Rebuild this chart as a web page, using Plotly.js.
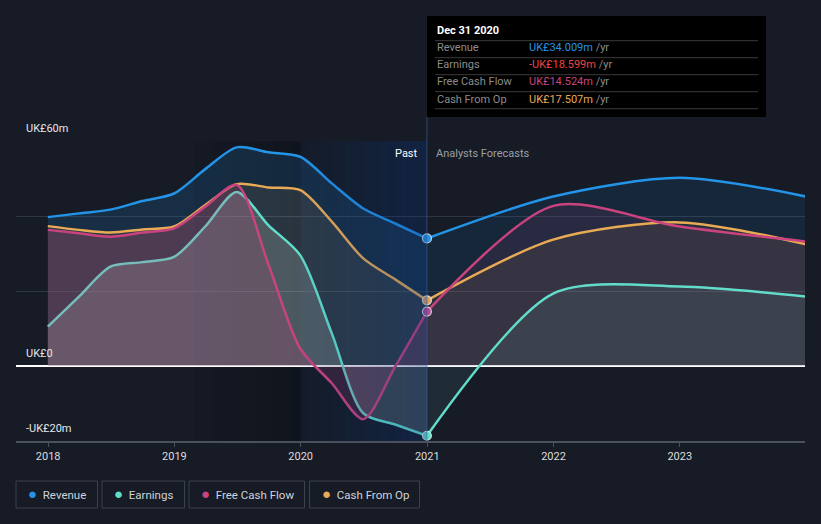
<!DOCTYPE html>
<html>
<head>
<meta charset="utf-8">
<script src="https://cdn.plot.ly/plotly-3.0.1.min.js"></script>
<style>
html,body{margin:0;padding:0;background:#161b26;}
#chart{width:821px;height:524px;}
</style>
</head>
<body>
<div id="chart"></div>
<script>
// ---- data (UK£ m) ----
const pastDates = ['2017-12-31','2018-03-31','2018-06-30','2018-09-30','2018-12-31','2019-03-31','2019-06-30','2019-09-30','2019-12-31','2020-03-31','2020-06-30','2020-09-30','2020-12-31'];
const foreDates = ['2020-12-31','2021-12-31','2022-12-31','2023-12-31'];

const revenuePast  = [39.7, 40.7, 41.7, 44.0, 46.0, 52.5, 58.3, 57.0, 55.8, 48.7, 42.0, 38.0, 34.009];
const revenueFore  = [34.009, 45.2, 50.2, 45.2];
const earningsPast = [10.5, 18.5, 26.5, 27.7, 29.1, 37.2, 46.4, 37.5, 29.5, 8.7, -12.6, -15.6, -18.599];
const earningsFore = [-18.599, 19.3, 21.2, 18.5];
const fcfPast      = [36.3, 35.4, 34.5, 35.6, 36.7, 42.5, 48.3, 27.0, 4.6, -4.6, -14.2, -0.2, 14.524];
const fcfFore      = [14.524, 42.7, 37.2, 33.2];
const cfoPast      = [37.3, 36.3, 35.6, 36.4, 37.2, 42.9, 48.5, 47.6, 46.9, 38.5, 28.7, 23.1, 17.507];
const cfoFore      = [17.507, 33.7, 38.3, 32.5];

const seriesNames = ['Revenue','Earnings','Free Cash Flow','Cash From Op'];
const tipValues   = ['UK£34.009m','-UK£18.599m','UK£14.524m','UK£17.507m'];
const yTickVals   = [-20, 0, 20, 40, 60];
const yLabels     = [[60,'UK£60m'],[0,'UK£0'],[-20,'-UK£20m']];
const xTickVals   = ['2018-01-01','2019-01-01','2020-01-01','2021-01-01','2022-01-01','2023-01-01'];
const xTickText   = ['2018','2019','2020','2021','2022','2023'];

// ---- styles ----
const C = {rev:'#2394e8', earn:'#62dccb', fcf:'#c9437e', cfo:'#e8aa55'};
const lineColors = [C.rev, C.earn, C.fcf, C.cfo];
const tipColors  = ['#2394e8','#ee4444','#c9437e','#e8aa55'];
const FONT = 'Roboto, "Open Sans", sans-serif';

function fillTrace(x, y, color) {
  return {x:x, y:y, type:'scatter', mode:'lines', line:{width:0, shape:'spline', smoothing:0.8},
          fill:'tozeroy', fillcolor:color, hoverinfo:'skip', showlegend:false};
}
function lineTrace(x, y, color, w) {
  return {x:x, y:y, type:'scatter', mode:'lines', line:{width:w||2.5, color:color, shape:'spline', smoothing:0.8},
          hoverinfo:'skip', showlegend:false};
}

const traces = [
  // fills past
  fillTrace(pastDates, revenuePast, 'rgba(35,148,232,0.16)'),
  fillTrace(pastDates, cfoPast, 'rgba(232,170,85,0.10)'),
  fillTrace(pastDates, earningsPast, 'rgba(200,220,210,0.22)'),
  lineTrace(pastDates, earningsPast, C.earn),
  fillTrace(pastDates, fcfPast, 'rgba(201,67,126,0.20)'),
  // fills forecast
  fillTrace(foreDates, revenueFore, 'rgba(35,148,232,0.10)'),
  fillTrace(foreDates, fcfFore, 'rgba(201,67,126,0.10)'),
  fillTrace(foreDates, cfoFore, 'rgba(232,170,85,0.08)'),
  fillTrace(foreDates, earningsFore, 'rgba(120,200,190,0.10)'),
  // lines
  lineTrace(foreDates, earningsFore, C.earn),
  lineTrace(pastDates, revenuePast, C.rev),
  lineTrace(foreDates, revenueFore, C.rev),
  lineTrace(pastDates, cfoPast, C.cfo),
  lineTrace(foreDates, cfoFore, C.cfo),
  lineTrace(pastDates, fcfPast, C.fcf),
  lineTrace(foreDates, fcfFore, C.fcf),
  // markers at last reported point
  {x:[pastDates[12],pastDates[12],pastDates[12],pastDates[12]],
   y:[revenuePast[12], earningsPast[12], fcfPast[12], cfoPast[12]],
   type:'scatter', mode:'markers', hoverinfo:'skip', showlegend:false,
   marker:{size:9, color:[C.rev, C.earn, '#b04a94', '#d9a263'], line:{color:'rgba(255,255,255,0.75)', width:1.2}}}
];

const shapes = [];
// dark fade before 2020
const fadeStart = new Date('2019-03-01').getTime(), fadeEnd = new Date('2020-01-01').getTime();
const N1 = 12;
for (let i = 0; i < N1; i++) {
  const a = fadeStart + (fadeEnd - fadeStart) * i / N1, b = fadeStart + (fadeEnd - fadeStart) * (i + 1) / N1;
  shapes.push({type:'rect', xref:'x', yref:'paper', x0:new Date(a).toISOString().slice(0,10), x1:new Date(b).toISOString().slice(0,10),
    y0:0, y1:1, fillcolor:'rgba(0,0,0,' + (0.03 + 0.2 * (i + 1) / N1).toFixed(3) + ')', line:{width:0}, layer:'below'});
}
// blue "past" band 2020 (overlay)
const bStart = new Date('2020-01-01').getTime(), bEnd = new Date('2020-12-31').getTime();
const N2 = 20;
for (let i = 0; i < N2; i++) {
  const a = bStart + (bEnd - bStart) * i / N2, b = bStart + (bEnd - bStart) * (i + 1) / N2;
  shapes.push({type:'rect', xref:'x', yref:'paper', x0:new Date(a).toISOString().slice(0,10), x1:new Date(b).toISOString().slice(0,10),
    y0:0, y1:1, fillcolor:'rgba(10,55,130,' + (0.03 + 0.27 * (i + 1) / N2).toFixed(3) + ')', line:{width:0}, layer:'above'});
}
// vertical line at last reported
shapes.push({type:'line', xref:'x', yref:'paper', x0:'2020-12-31', x1:'2020-12-31', y0:0, y1:1.08,
  line:{color:'rgba(70,100,150,0.6)', width:1}});
// tooltip box
shapes.push({type:'rect', xref:'paper', yref:'paper', x0:(427-16)/789, x1:(766-16)/789,
  y0:(441-117)/300, y1:(441-16)/300, fillcolor:'#000000', line:{width:0}});
// tooltip separators
const sepYs = [40.7, 57.7, 74.7, 91.7, 108.7];
sepYs.forEach(py => shapes.push({type:'line', xref:'paper', yref:'paper',
  x0:(435-16)/789, x1:(758-16)/789, y0:(441-py)/300, y1:(441-py)/300, line:{color:'#3a3a3a', width:1}}));
// legend boxes
const legendBoxes = [[16,97.5],[102,184.5],[189,304.5],[309.5,419.5]];
legendBoxes.forEach(bx => shapes.push({type:'rect', xref:'paper', yref:'paper',
  x0:(bx[0]-16)/789, x1:(bx[1]-16)/789, y0:(441-481)/300, y1:(441-508)/300,
  fillcolor:'rgba(0,0,0,0)', line:{color:'#3b414d', width:1}}));

const annotations = [];
yLabels.forEach(l => annotations.push({xref:'paper', yref:'y', x:(24-16)/789, y:l[0], xanchor:'left', yanchor:'bottom',
  yshift:4, text:l[1], showarrow:false, font:{family:FONT, size:11, color:'#e6e6e6'}}));
annotations.push({xref:'x', yref:'paper', x:'2020-12-31', y:(441-153)/300, xanchor:'right', yanchor:'middle', xshift:-7,
  text:'Past', showarrow:false, font:{family:FONT, size:11, color:'#ffffff'}});
annotations.push({xref:'x', yref:'paper', x:'2020-12-31', y:(441-153)/300, xanchor:'left', yanchor:'middle', xshift:7,
  text:'Analysts Forecasts', showarrow:false, font:{family:FONT, size:11, color:'#9aa0a8'}});
// tooltip text
annotations.push({xref:'paper', yref:'paper', x:(435-16)/789, y:(441-31)/300, xanchor:'left', yanchor:'middle',
  text:'<b>Dec 31 2020</b>', showarrow:false, font:{family:FONT, size:11, color:'#ffffff'}});
const rowYs = [48, 65, 82, 99];
seriesNames.forEach((n, i) => {
  annotations.push({xref:'paper', yref:'paper', x:(435-16)/789, y:(441-rowYs[i])/300, xanchor:'left', yanchor:'middle',
    text:n, showarrow:false, font:{family:FONT, size:11, color:'#8c8c8c'}});
  annotations.push({xref:'paper', yref:'paper', x:(527-16)/789, y:(441-rowYs[i])/300, xanchor:'left', yanchor:'middle',
    text:'<span style="color:' + tipColors[i] + '">' + tipValues[i] + '</span> <span style="color:#8c8c8c">/yr</span>',
    showarrow:false, font:{family:FONT, size:11, color:tipColors[i]}});
});
// legend text
seriesNames.forEach((n, i) => {
  annotations.push({xref:'paper', yref:'paper', x:(legendBoxes[i][0]+10-16)/789, y:(441-494.5)/300, xanchor:'left', yanchor:'middle',
    text:'<span style="color:' + lineColors[i] + ';font-size:15px">●</span>  ' + n, showarrow:false,
    font:{family:FONT, size:11.5, color:'#d0d3d8'}});
});

const layout = {
  width:821, height:524,
  paper_bgcolor:'#161b26', plot_bgcolor:'#161b26',
  margin:{l:16, r:16, t:141, b:83},
  showlegend:false,
  font:{family:FONT, color:'#dddddd'},
  xaxis:{type:'date', range:['2017-09-30','2023-12-29'], tickvals:xTickVals, ticktext:xTickText,
    showgrid:false, zeroline:false, showline:true, linecolor:'#4a505c', linewidth:1.5,
    ticks:'outside', ticklen:4, tickcolor:'#4a505c', tickfont:{family:FONT, size:11, color:'#dddddd'}, fixedrange:true},
  yaxis:{range:[-20,60], tickvals:yTickVals, showticklabels:false, showgrid:true, gridcolor:'#2f3542', gridwidth:1,
    zeroline:true, zerolinecolor:'#ffffff', zerolinewidth:1.5, showline:false, ticks:'', fixedrange:true},
  shapes:shapes,
  annotations:annotations
};

Plotly.newPlot('chart', traces, layout, {displayModeBar:false, staticPlot:true});
</script>
</body>
</html>
